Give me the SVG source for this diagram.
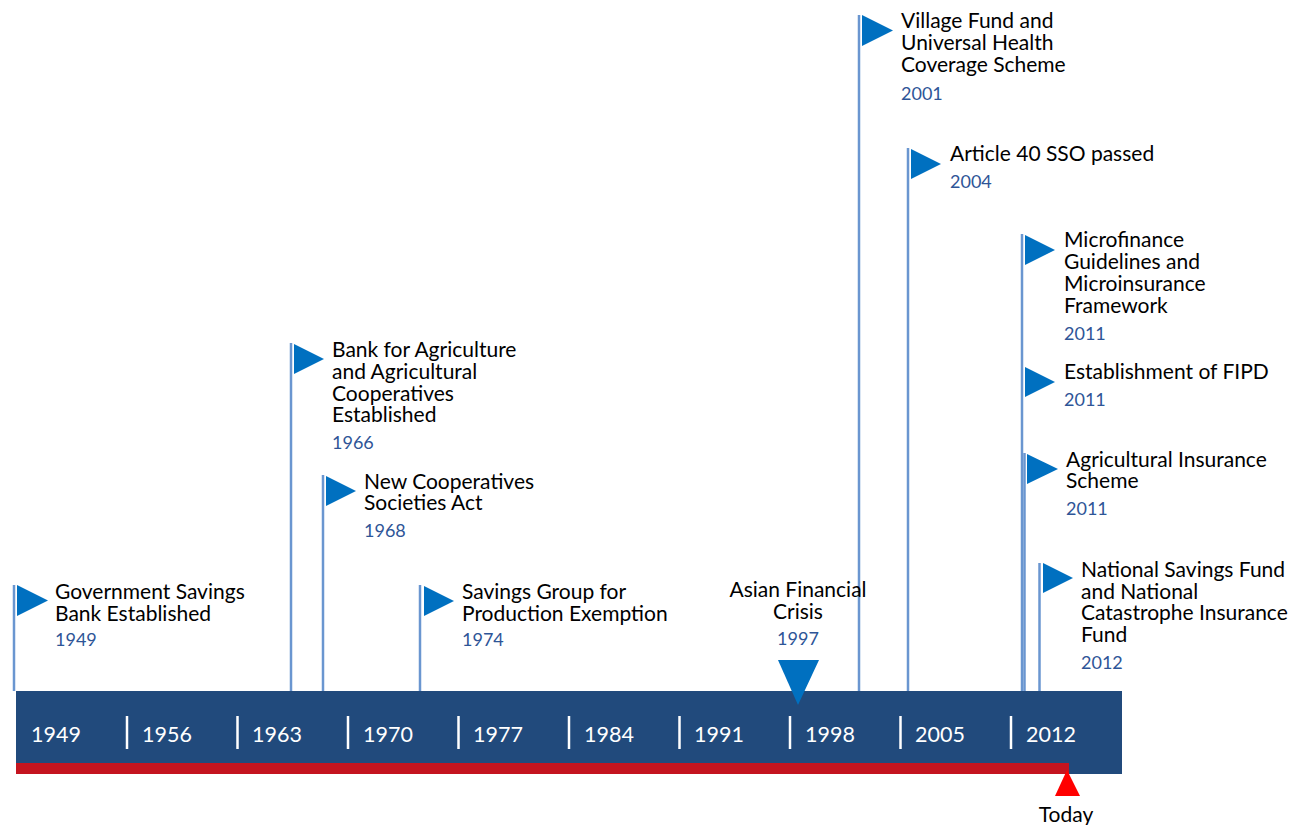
<svg xmlns="http://www.w3.org/2000/svg" width="1291" height="825" viewBox="0 0 1291 825">
<style>
.lbl{font-family:Lato,"Open Sans",sans-serif;font-size:21px;fill:#000}
.yr{font-family:Lato,"Open Sans",sans-serif;font-size:18px;fill:#2E5597}
.ax{font-family:Lato,"Open Sans",sans-serif;font-size:21.5px;fill:#fff}
.flag{fill:#0070C0}
.pole{stroke:#6A96D0;stroke-width:2.5;fill:none}
.sep{stroke:#fff;stroke-width:2.5}
</style>
<rect width="1291" height="825" fill="#fff"/>
<g id="connectors">
<line class="pole" x1="14" y1="585" x2="14" y2="691"/>
<line class="pole" x1="291" y1="343" x2="291" y2="691"/>
<line class="pole" x1="323" y1="475" x2="323" y2="691"/>
<line class="pole" x1="420" y1="585" x2="420" y2="691"/>
<line class="pole" x1="859" y1="15" x2="859" y2="691"/>
<line class="pole" x1="908" y1="148" x2="908" y2="691"/>
<line class="pole" x1="1022" y1="234" x2="1022" y2="691"/>
<line class="pole" x1="1024.5" y1="453" x2="1024.5" y2="691"/>
<line class="pole" x1="1039.5" y1="563" x2="1039.5" y2="691"/>
</g>
<g id="axis">
<rect x="16" y="691" width="1106" height="83" fill="#214A7C"/>
<rect x="16" y="763" width="1053" height="11" fill="#C4141F"/>
<line class="sep" x1="127" y1="716" x2="127" y2="749"/>
<line class="sep" x1="237.5" y1="716" x2="237.5" y2="749"/>
<line class="sep" x1="348" y1="716" x2="348" y2="749"/>
<line class="sep" x1="458.5" y1="716" x2="458.5" y2="749"/>
<line class="sep" x1="569" y1="716" x2="569" y2="749"/>
<line class="sep" x1="679.5" y1="716" x2="679.5" y2="749"/>
<line class="sep" x1="790" y1="716" x2="790" y2="749"/>
<line class="sep" x1="900.5" y1="716" x2="900.5" y2="749"/>
<line class="sep" x1="1011" y1="716" x2="1011" y2="749"/>
<text class="ax" x="31" y="742">1949</text>
<text class="ax" x="142" y="742">1956</text>
<text class="ax" x="252" y="742">1963</text>
<text class="ax" x="363" y="742">1970</text>
<text class="ax" x="473" y="742">1977</text>
<text class="ax" x="584" y="742">1984</text>
<text class="ax" x="694" y="742">1991</text>
<text class="ax" x="805" y="742">1998</text>
<text class="ax" x="915" y="742">2005</text>
<text class="ax" x="1026" y="742">2012</text>
</g>
<g id="today">
<polygon points="1067,770 1080,796 1055,796" fill="#FF0000"/>
<text class="lbl" x="1066" y="822" text-anchor="middle">Today</text>
</g>
<g id="crisis-1997">
<polygon points="778,660 819,660 798,705" fill="#0070C0"/>
<text class="lbl" text-anchor="middle"><tspan x="798" y="597">Asian Financial</tspan><tspan x="798" y="619">Crisis</tspan></text>
<text class="yr" x="798" y="645" text-anchor="middle">1997</text>
</g>
<g id="e1949">
<polygon class="flag" points="17,585 48,600.5 17,616"/>
<text class="lbl"><tspan x="55" y="599">Government Savings</tspan><tspan x="55" y="621">Bank Established</tspan></text>
<text class="yr" x="55" y="646">1949</text>
</g>
<g id="e1966">
<polygon class="flag" points="294,344 324,359 294,374"/>
<text class="lbl"><tspan x="332" y="357">Bank for Agriculture</tspan><tspan x="332" y="379">and Agricultural</tspan><tspan x="332" y="400.5">Cooperatives</tspan><tspan x="332" y="422">Established</tspan></text>
<text class="yr" x="332" y="449">1966</text>
</g>
<g id="e1968">
<polygon class="flag" points="326,476 356,491 326,506"/>
<text class="lbl"><tspan x="364" y="489">New Cooperatives</tspan><tspan x="364" y="510">Societies Act</tspan></text>
<text class="yr" x="364" y="537">1968</text>
</g>
<g id="e1974">
<polygon class="flag" points="424,586 454,601 424,616"/>
<text class="lbl"><tspan x="462" y="599">Savings Group for</tspan><tspan x="462" y="621">Production Exemption</tspan></text>
<text class="yr" x="462" y="646">1974</text>
</g>
<g id="e2001">
<polygon class="flag" points="862,15 893,30.5 862,46"/>
<text class="lbl"><tspan x="901" y="28">Village Fund and</tspan><tspan x="901" y="50">Universal Health</tspan><tspan x="901" y="72">Coverage Scheme</tspan></text>
<text class="yr" x="901" y="100">2001</text>
</g>
<g id="e2004">
<polygon class="flag" points="911,149 941,164 911,179"/>
<text class="lbl" x="950" y="161">Article 40 SSO passed</text>
<text class="yr" x="950" y="188">2004</text>
</g>
<g id="e2011a">
<polygon class="flag" points="1025,235 1055,250 1025,265"/>
<text class="lbl"><tspan x="1064" y="247">Microfinance</tspan><tspan x="1064" y="269">Guidelines and</tspan><tspan x="1064" y="291">Microinsurance</tspan><tspan x="1064" y="313">Framework</tspan></text>
<text class="yr" x="1064" y="340">2011</text>
</g>
<g id="e2011b">
<polygon class="flag" points="1025,367 1055,382 1025,397"/>
<text class="lbl" x="1064" y="379">Establishment of FIPD</text>
<text class="yr" x="1064" y="406">2011</text>
</g>
<g id="e2011c">
<polygon class="flag" points="1027,454 1058,469 1027,484"/>
<text class="lbl"><tspan x="1066" y="467">Agricultural Insurance</tspan><tspan x="1066" y="488">Scheme</tspan></text>
<text class="yr" x="1066" y="515">2011</text>
</g>
<g id="e2012">
<polygon class="flag" points="1043,563 1073,578 1043,593"/>
<text class="lbl"><tspan x="1081" y="577">National Savings Fund</tspan><tspan x="1081" y="599">and National</tspan><tspan x="1081" y="620">Catastrophe Insurance</tspan><tspan x="1081" y="642">Fund</tspan></text>
<text class="yr" x="1081" y="669">2012</text>
</g>
</svg>
